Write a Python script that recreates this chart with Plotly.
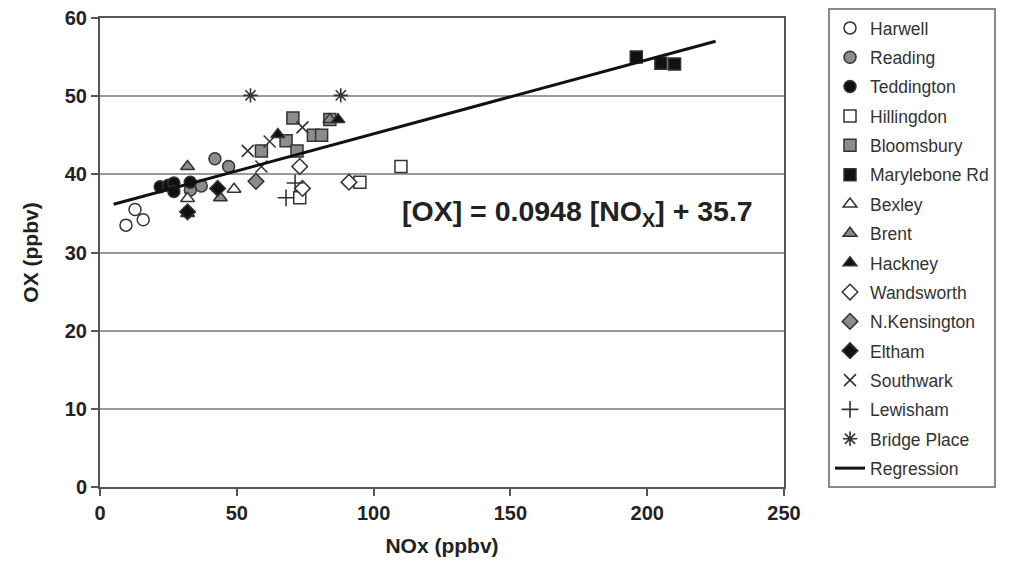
import plotly.graph_objects as go

# ---- data ----
harwell_x = [9.5, 12.8, 15.8]
harwell_y = [33.5, 35.5, 34.2]
reading_x = [42, 47, 37, 33]
reading_y = [42, 41, 38.5, 38]
teddington_x = [22, 25, 27, 27, 33]
teddington_y = [38.4, 38.6, 38.9, 37.8, 39]
hillingdon_x = [73, 95, 110]
hillingdon_y = [37, 39, 41]
bloomsbury_x = [59, 68, 70.5, 72, 78, 81, 84]
bloomsbury_y = [43, 44.3, 47.2, 43, 45, 45, 47]
marylebone_x = [196, 205, 210]
marylebone_y = [55, 54.2, 54.1]
bexley_x = [32, 49]
bexley_y = [36.9, 38.1]
brent_x = [32, 44, 84]
brent_y = [41, 37, 47]
hackney_x = [32, 65, 87]
hackney_y = [35, 45.1, 47]
wandsworth_x = [73, 74, 91]
wandsworth_y = [41, 38.2, 39]
nkensington_x = [57]
nkensington_y = [39.1]
eltham_x = [32, 43]
eltham_y = [35.2, 38.2]
southwark_x = [54, 59, 62, 74]
southwark_y = [43, 41, 44.2, 46]
lewisham_x = [71.3, 68]
lewisham_y = [38.9, 37]
bridge_x = [55, 88]
bridge_y = [50.1, 50.1]

reg_slope = 0.0948
reg_intercept = 35.7
reg_x = [5, 225]
reg_y = [reg_slope * v + reg_intercept for v in reg_x]

x_ticks = [0, 50, 100, 150, 200, 250]
y_ticks = [0, 10, 20, 30, 40, 50, 60]

DARK = "#222222"
GREY = "#8c8c8c"
WHITE = "#ffffff"
BLACK = "#111111"
EDGE = "#333333"

series = [
    ("Harwell", harwell_x, harwell_y, "circle", WHITE),
    ("Reading", reading_x, reading_y, "circle", GREY),
    ("Teddington", teddington_x, teddington_y, "circle", BLACK),
    ("Hillingdon", hillingdon_x, hillingdon_y, "square", WHITE),
    ("Bloomsbury", bloomsbury_x, bloomsbury_y, "square", GREY),
    ("Marylebone Rd", marylebone_x, marylebone_y, "square", BLACK),
    ("Bexley", bexley_x, bexley_y, "triangle-up", WHITE),
    ("Brent", brent_x, brent_y, "triangle-up", GREY),
    ("Hackney", hackney_x, hackney_y, "triangle-up", BLACK),
    ("Wandsworth", wandsworth_x, wandsworth_y, "diamond", WHITE),
    ("N.Kensington", nkensington_x, nkensington_y, "diamond", GREY),
    ("Eltham", eltham_x, eltham_y, "diamond", BLACK),
    ("Southwark", southwark_x, southwark_y, "x-thin-open", None),
    ("Lewisham", lewisham_x, lewisham_y, "cross-thin-open", None),
    ("Bridge Place", bridge_x, bridge_y, "asterisk-open", None),
]

fig = go.Figure()
for i, (name, xs, ys, sym, fill) in enumerate(series):
    if fill is None:
        marker = dict(symbol=sym, size=12, color=EDGE, line=dict(color=EDGE, width=1.6))
    else:
        marker = dict(symbol=sym, size=12, color=fill, line=dict(color=EDGE, width=1.5))
    fig.add_trace(go.Scatter(x=xs, y=ys, mode="markers", name=name, marker=marker,
                             legendgroup=f"g{i}"))

fig.add_trace(go.Scatter(x=reg_x, y=reg_y, mode="lines", name="Regression",
                         line=dict(color="#111111", width=3), legendgroup="reg"))

fig.add_annotation(x=174.7, y=35.0, xref="x", yref="y", showarrow=False,
                   text="[OX] = 0.0948 [NO<sub>X</sub>] + 35.7",
                   font=dict(family="Liberation Sans, Arial", size=28.5, color=DARK, weight="bold"))

axis_common = dict(
    showline=True, linecolor="#555555", linewidth=2, mirror=True,
    ticks="outside", ticklen=7, tickcolor="#555555", tickwidth=1.5,
    tickfont=dict(size=20, color=DARK, weight="bold"),
    ticklabeloverflow="allow",
    zeroline=False, automargin=False,
)

fig.update_layout(
    width=1009, height=576,
    margin=dict(l=92, r=233, t=10, b=97),
    paper_bgcolor="white", plot_bgcolor="white",
    font=dict(family="Liberation Sans, Arial", color=DARK),
    legend=dict(xref="container", yref="container", x=0.8127, xanchor="left",
                y=1.0, yanchor="top",
                bordercolor="#888888", borderwidth=2, bgcolor="white",
                font=dict(size=17.5, color="#333333"), tracegroupgap=3.6,
                traceorder="grouped", maxheight=1.0),
    xaxis=dict(range=[0, 250], tickvals=x_ticks, showgrid=False,
               title=dict(text="NOx (ppbv)", font=dict(size=21, color=DARK, weight="bold"), standoff=15),
               **axis_common),
    yaxis=dict(range=[0, 60], tickvals=y_ticks, showgrid=True, gridcolor="#9a9a9a", gridwidth=2,
               title=dict(text="OX (ppbv)", font=dict(size=21, color=DARK, weight="bold"), standoff=20),
               **axis_common),
)

fig.write_html("out.html")
